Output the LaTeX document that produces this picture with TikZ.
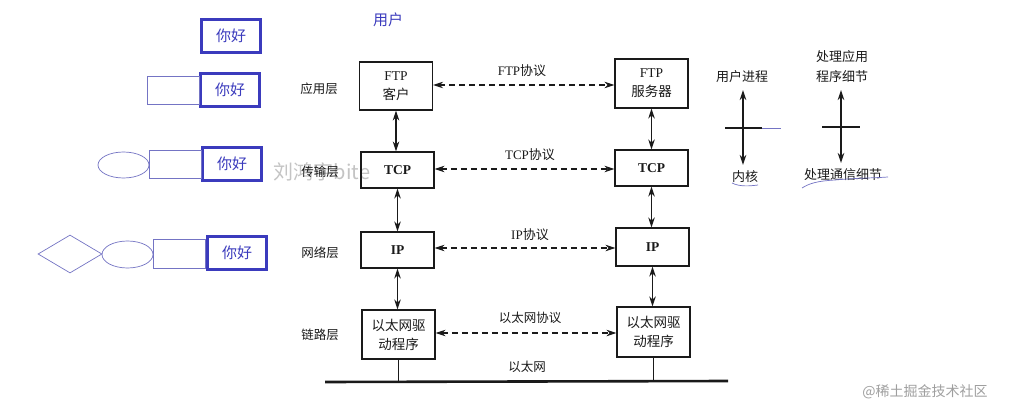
\documentclass[tikz,border=0pt]{standalone}
\usepackage{fontspec}
\setmainfont{Liberation Serif}
\newfontfamily\cjk{Noto Sans CJK SC}
\usetikzlibrary{arrows.meta,shapes.geometric}
\definecolor{hb}{HTML}{3B3BBD}
\definecolor{tb}{HTML}{7474C4}
\definecolor{ink}{HTML}{1A1A1A}
\definecolor{wm}{HTML}{C4C4C4}
\tikzset{
  hello/.style={draw=hb,line width=2.6pt,minimum width=59pt,minimum height=33pt,inner sep=0pt,text=hb,font=\cjk\fontsize{15}{16}\selectfont},
  thinshape/.style={draw=tb,line width=0.7pt,inner sep=0pt},
  layerbox/.style={draw=ink,line width=1.2pt,minimum width=73pt,inner sep=0pt,align=center,text=ink,font=\fontsize{13.5}{19}\selectfont},
  lbl/.style={text=ink,font=\cjk\fontsize{12.5}{14}\selectfont,inner sep=1pt},
  tip/.tip={Stealth[length=10pt,width=6.5pt]},
  dblarrow/.style={draw=ink,line width=1.3pt,{tip}-{tip}},
  dasharrow/.style={draw=ink,line width=1.3pt,dash pattern=on 6pt off 4pt,{tip}-{tip}},
  note/.style={draw=tb,line width=0.7pt}
}
\newcommand{\zh}[1]{{\cjk #1}}
\begin{document}
\begin{tikzpicture}[x=1pt,y=-1pt]
\path[use as bounding box,fill=white] (0,0) rectangle (1012,409);

% watermarks
\node[text=wm,font=\cjk\fontsize{20}{22}\selectfont,inner sep=0pt] (wm1) at (322,172) {刘鸿宇bite};
\node[text=gray!75,font=\cjk\fontsize{14}{16}\selectfont,inner sep=0pt] (wm2) at (925,392) {@稀土掘金技术社区};

% left: hello boxes
\node[hello] (h1) at (231,36) {你好};

\node[hello] (h2) at (230,90) {你好};
\node[thinshape,minimum width=52pt,minimum height=28pt] (r2) at (173,90) {};

\node[hello] (h3) at (232,164) {你好};
\node[thinshape,minimum width=52pt,minimum height=28pt] (r3) at (175,164) {};
\node[thinshape,ellipse,minimum width=51pt,minimum height=26pt] (e3) at (123.5,165) {};

\node[hello] (h4) at (237,253) {你好};
\node[thinshape,minimum width=52pt,minimum height=29pt] (r4) at (179,253.5) {};
\node[thinshape,ellipse,minimum width=51pt,minimum height=27pt] (e4) at (127.5,254.5) {};
\node[thinshape,diamond,minimum width=64pt,minimum height=38pt] (d4) at (70,254) {};

\node[text=hb,font=\cjk\fontsize{15}{16}\selectfont,inner sep=0pt] (user) at (388,20) {用户};

% layer labels
\node[lbl] (l1) at (319,89) {应用层};
\node[lbl] (l2) at (320,172) {传输层};
\node[lbl] (l3) at (320,253) {网络层};
\node[lbl] (l4) at (320,335) {链路层};

% boxes
\node[layerbox,minimum height=48pt] (ftpc) at (396,86) {FTP\\\zh{客户}};
\node[layerbox,minimum height=49pt] (ftps) at (651.5,83.5) {FTP\\\zh{服务器}};
\node[layerbox,minimum height=36pt,font=\bfseries\fontsize{13.5}{15}\selectfont] (tcpl) at (397.5,170) {TCP};
\node[layerbox,minimum height=36pt,font=\bfseries\fontsize{13.5}{15}\selectfont] (tcpr) at (651.5,168) {TCP};
\node[layerbox,minimum height=36pt,font=\bfseries\fontsize{13.5}{15}\selectfont] (ipl) at (397.5,250) {IP};
\node[layerbox,minimum height=38pt,font=\bfseries\fontsize{13.5}{15}\selectfont] (ipr) at (652.5,247) {IP};
\node[layerbox,minimum height=49pt,font=\cjk\fontsize{13.5}{19}\selectfont] (ethl) at (398.5,334.5) {以太网驱\\动程序};
\node[layerbox,minimum height=50pt,font=\cjk\fontsize{13.5}{19}\selectfont] (ethr) at (653.5,332) {以太网驱\\动程序};

% vertical arrows
\draw[dblarrow] (ftpc.south) -- (tcpl.north -| ftpc.south);
\draw[dblarrow] (tcpl.south) -- (ipl.north);
\draw[dblarrow] (ipl.south) -- (ethl.north -| ipl.south);
\draw[dblarrow] (ftps.south) -- (tcpr.north);
\draw[dblarrow] (tcpr.south) -- (ipr.north -| tcpr.south);
\draw[dblarrow] (ipr.south) -- (ethr.north -| ipr.south);

% protocol arrows
\draw[dasharrow] (ftpc.east |- 0,85) -- (ftps.west |- 0,85);
\draw[dasharrow] (tcpl.east |- 0,169) -- (tcpr.west |- 0,169);
\draw[dasharrow] (ipl.east |- 0,248) -- (ipr.west |- 0,248);
\draw[dasharrow] (ethl.east |- 0,333) -- (ethr.west |- 0,333);

\node[lbl,font=\fontsize{13}{14}\selectfont] (p1) at (522,71) {FTP\zh{协议}};
\node[lbl,font=\fontsize{13}{14}\selectfont] (p2) at (530,155) {TCP\zh{协议}};
\node[lbl,font=\fontsize{13}{14}\selectfont] (p3) at (530,235) {IP\zh{协议}};
\node[lbl] (p4) at (530,318) {以太网协议};
\node[lbl] (p5) at (527,367) {以太网};

% ethernet
\coordinate (ethA) at (325,382);
\coordinate (ethB) at (728,381);
\draw[ink,line width=2.6pt] (ethA) -- (ethB);
\draw[ink,line width=1pt] (ethl.south) -- (ethl.south |- ethA);
\draw[ink,line width=1pt] (ethr.south) -- (ethr.south |- ethA);

% right side
\node[lbl,font=\cjk\fontsize{13}{15}\selectfont] (up) at (742,77) {用户进程};
\node[lbl,font=\cjk\fontsize{13}{15}\selectfont] (kern) at (745,177) {内核};
\node[lbl,font=\cjk\fontsize{13}{20}\selectfont,align=center] (app) at (842,67) {处理应用\\程序细节};
\node[lbl,font=\cjk\fontsize{13}{15}\selectfont] (comm) at (843,175) {处理通信细节};

\draw[dblarrow] (743,90) -- (743,165);
\draw[dblarrow] (841,90) -- (841,163);
\draw[ink,line width=1.2pt] (725,128) -- (762,128);
\draw[note] (762,128) -- (781,128);
\draw[ink,line width=1.2pt] (822,127) -- (860,127);

\draw[note] (732,183) .. controls (740,187) and (750,186) .. (758,185);
\draw[note] (802,188) .. controls (810,183) and (818,181) .. (835,180) .. controls (855,178) and (875,178) .. (888,177);
\end{tikzpicture}
\end{document}
